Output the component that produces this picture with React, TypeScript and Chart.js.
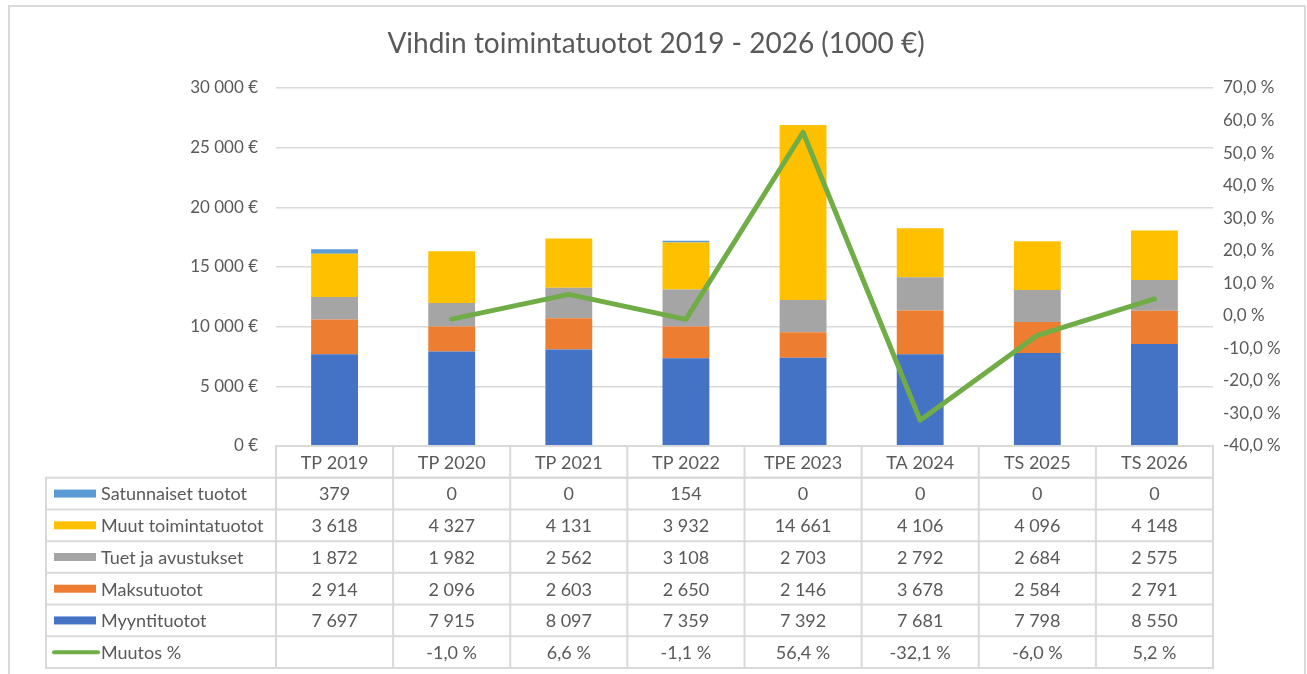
import React, { useEffect, useRef } from "react";
import { Chart, registerables } from "chart.js";

Chart.register(...registerables);

const categories = ["TP 2019", "TP 2020", "TP 2021", "TP 2022", "TPE 2023", "TA 2024", "TS 2025", "TS 2026"];
const myyntituotot = [7697, 7915, 8097, 7359, 7392, 7681, 7798, 8550];
const maksutuotot = [2914, 2096, 2603, 2650, 2146, 3678, 2584, 2791];
const tuet = [1872, 1982, 2562, 3108, 2703, 2792, 2684, 2575];
const muut = [3618, 4327, 4131, 3932, 14661, 4106, 4096, 4148];
const satunnaiset = [379, 0, 0, 154, 0, 0, 0, 0];
const muutos: (number | null)[] = [null, -1.0, 6.6, -1.1, 56.4, -32.1, -6.0, 5.2];

const TITLE = "Vihdin toimintatuotot 2019 - 2026 (1000 €)";
const FONT = "Lato";
const TEXT = "#595959";
const GRID = "#d9d9d9";

const fmtInt = (n: number) => String(Math.round(n)).replace(/\B(?=(\d{3})+(?!\d))/g, " ");
const fmtPct = (n: number) => n.toFixed(1).replace(".", ",") + " %";

export default function App() {
  const ref = useRef<HTMLCanvasElement | null>(null);

  useEffect(() => {
    if (!ref.current) return;

    const rows = [
      { label: "Satunnaiset tuotot", color: "#5B9BD5", kind: "bar", values: satunnaiset.map(fmtInt) },
      { label: "Muut toimintatuotot", color: "#FFC000", kind: "bar", values: muut.map(fmtInt) },
      { label: "Tuet ja avustukset", color: "#A5A5A5", kind: "bar", values: tuet.map(fmtInt) },
      { label: "Maksutuotot", color: "#ED7D31", kind: "bar", values: maksutuotot.map(fmtInt) },
      { label: "Myyntituotot", color: "#4472C4", kind: "bar", values: myyntituotot.map(fmtInt) },
      { label: "Muutos %", color: "#70AD47", kind: "line", values: muutos.map((v) => (v == null ? "" : fmtPct(v))) },
    ];

    const tablePlugin = {
      id: "tableAndFrame",
      afterDraw(chart: any) {
        const ctx = chart.ctx as CanvasRenderingContext2D;
        const area = chart.chartArea;
        const xs = chart.scales.x;
        ctx.save();
        // outer frame
        ctx.strokeStyle = GRID;
        ctx.lineWidth = 2;
        ctx.strokeRect(9, 6, 1296, 700);
        // title
        ctx.fillStyle = TEXT;
        ctx.font = `28px ${FONT}`;
        ctx.textAlign = "center";
        ctx.textBaseline = "middle";
        ctx.fillText(TITLE, 656, 44);

        const n = categories.length;
        const colW = (area.right - area.left) / n;
        const top = area.bottom;
        const rowH = (668 - top) / (rows.length + 1);
        const labelLeft = 46;

        ctx.strokeStyle = GRID;
        ctx.lineWidth = 2;
        // header cells
        ctx.strokeRect(area.left, top, area.right - area.left, rowH);
        for (let i = 1; i < n; i++) {
          const x = area.left + colW * i;
          ctx.beginPath();
          ctx.moveTo(x, top);
          ctx.lineTo(x, 668);
          ctx.stroke();
        }
        // body
        const bodyTop = top + rowH;
        ctx.strokeRect(labelLeft, bodyTop, area.right - labelLeft, 668 - bodyTop);
        ctx.beginPath();
        ctx.moveTo(area.left, bodyTop);
        ctx.lineTo(area.left, 668);
        ctx.stroke();
        for (let r = 1; r < rows.length; r++) {
          const y = bodyTop + rowH * r;
          ctx.beginPath();
          ctx.moveTo(labelLeft, y);
          ctx.lineTo(area.right, y);
          ctx.stroke();
        }

        ctx.font = `18px ${FONT}`;
        ctx.fillStyle = TEXT;
        ctx.textBaseline = "middle";
        ctx.textAlign = "center";
        categories.forEach((c, i) => {
          ctx.fillText(c, xs.getPixelForValue(i), top + rowH / 2 + 1);
        });

        rows.forEach((row, r) => {
          const cy = bodyTop + rowH * r + rowH / 2;
          if (row.kind === "bar") {
            ctx.fillStyle = row.color;
            ctx.fillRect(54, cy - 4, 42, 8);
          } else {
            ctx.strokeStyle = row.color;
            ctx.lineWidth = 4;
            ctx.lineCap = "round";
            ctx.beginPath();
            ctx.moveTo(54, cy);
            ctx.lineTo(98, cy);
            ctx.stroke();
          }
          ctx.fillStyle = TEXT;
          ctx.textAlign = "left";
          ctx.fillText(row.label, 101, cy + 1);
          ctx.textAlign = "center";
          row.values.forEach((v, i) => {
            ctx.fillText(v, xs.getPixelForValue(i), cy + 1);
          });
        });
        ctx.restore();
      },
    };

    const barCommon = { type: "bar" as const, yAxisID: "y", order: 2, borderWidth: 0, categoryPercentage: 1, barPercentage: 0.4 };

    const chart = new Chart(ref.current, {
      type: "bar",
      data: {
        labels: categories,
        datasets: [
          { ...barCommon, label: "Myyntituotot", data: myyntituotot, backgroundColor: "#4472C4" },
          { ...barCommon, label: "Maksutuotot", data: maksutuotot, backgroundColor: "#ED7D31" },
          { ...barCommon, label: "Tuet ja avustukset", data: tuet, backgroundColor: "#A5A5A5" },
          { ...barCommon, label: "Muut toimintatuotot", data: muut, backgroundColor: "#FFC000" },
          { ...barCommon, label: "Satunnaiset tuotot", data: satunnaiset, backgroundColor: "#5B9BD5" },
          {
            type: "line",
            label: "Muutos %",
            data: muutos,
            yAxisID: "y1",
            order: 0,
            borderColor: "#70AD47",
            borderWidth: 5,
            pointRadius: 0,
            tension: 0,
            borderCapStyle: "round",
            borderJoinStyle: "round",
          } as any,
        ],
      },
      options: {
        responsive: false,
        animation: false,
        layout: { padding: { top: 88, bottom: 228, left: 0, right: 0 } },
        plugins: { legend: { display: false }, title: { display: false }, tooltip: { enabled: false } },
        scales: {
          x: { display: false, stacked: true },
          y: {
            position: "left",
            stacked: true,
            min: 0,
            max: 30000,
            ticks: { stepSize: 5000, padding: 18, color: TEXT, font: { family: FONT, size: 17 }, callback: (v: any) => fmtInt(Number(v)) + " €" },
            grid: { color: GRID, lineWidth: 1.5, drawTicks: false },
            border: { display: false },
            afterFit: (s: any) => { s.width = 276; },
          },
          y1: {
            position: "right",
            min: -40,
            max: 70,
            ticks: { stepSize: 10, padding: 10, color: TEXT, font: { family: FONT, size: 17 }, callback: (v: any) => fmtPct(Number(v)) },
            grid: { display: false, drawTicks: false },
            border: { display: false },
            afterFit: (s: any) => { s.width = 94; },
          },
        },
      } as any,
      plugins: [tablePlugin],
    });
    return () => chart.destroy();
  }, []);

  return (
    <div style={{ position: "absolute", left: 0, top: 0, width: 1307, height: 674, background: "#fff" }}>
      <canvas ref={ref} width={1307} height={674} style={{ display: "block" }} />
    </div>
  );
}
